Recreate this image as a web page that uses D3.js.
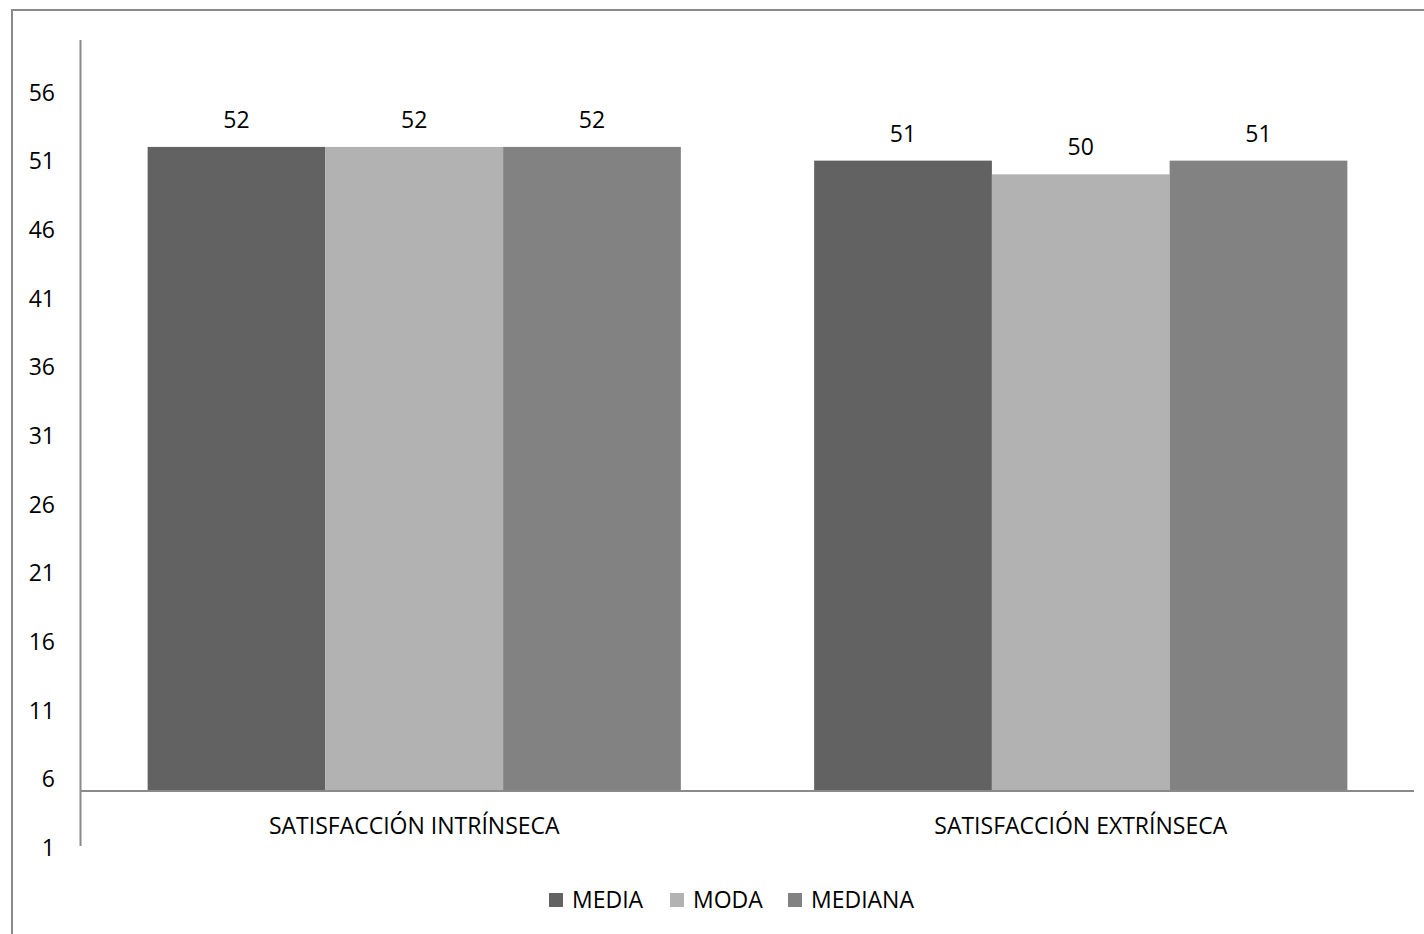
<!DOCTYPE html>
<html>
<head>
<meta charset="utf-8">
<script src="https://cdn.jsdelivr.net/npm/d3@7"></script>
<style>
  html, body { margin: 0; padding: 0; background: #fff; }
  svg { display: block; }
  text { font-family: "Open Sans", sans-serif; fill: #000; }
</style>
</head>
<body>
<svg id="chart" width="1424" height="934"></svg>
<script>
// Categories, series and values
const categories = ["SATISFACCIÓN INTRÍNSECA", "SATISFACCIÓN EXTRÍNSECA"];
const seriesNames = ["MEDIA", "MODA", "MEDIANA"];
const seriesColors = ["#626262", "#b2b2b2", "#828282"];
const media = [52, 51];
const moda = [52, 50];
const mediana = [52, 51];
const yTicks = [1, 6, 11, 16, 21, 26, 31, 36, 41, 46, 51, 56];
const axisCross = 5.08; // value where the category axis crosses the value axis

const seriesValues = [media, moda, mediana];
const FONT = "'Open Sans', sans-serif";
const FS = 23;

const svg = d3.select("#chart");

// Outer chart frame (extends past the visible window on right/bottom)
svg.append("rect")
  .attr("x", 12).attr("y", 10)
  .attr("width", 1430).attr("height", 940)
  .attr("fill", "none")
  .attr("stroke", "#8a8a8a")
  .attr("stroke-width", 2);

const x0 = d3.scaleBand()
  .domain(categories)
  .range([81, 1414])
  .paddingInner(0.2)
  .paddingOuter(0.1);

const x1 = d3.scaleBand()
  .domain(seriesNames)
  .range([0, x0.bandwidth()])
  .padding(0);

const y = d3.scaleLinear()
  .domain([1, 56])
  .range([847, 92]);

const baseY = y(axisCross);

// Bars
const groups = svg.append("g").selectAll("g")
  .data(categories)
  .join("g")
  .attr("transform", d => `translate(${x0(d)},0)`);

groups.selectAll("rect")
  .data((c, i) => seriesNames.map((s, j) => ({ s, j, v: seriesValues[j][i] })))
  .join("rect")
  .attr("x", d => x1(d.s))
  .attr("y", d => y(d.v))
  .attr("width", x1.bandwidth())
  .attr("height", d => baseY - y(d.v))
  .attr("fill", d => seriesColors[d.j]);

// Data labels
groups.selectAll("text.val")
  .data((c, i) => seriesNames.map((s, j) => ({ s, j, v: seriesValues[j][i] })))
  .join("text")
  .attr("class", "val")
  .attr("x", d => x1(d.s) + x1.bandwidth() / 2)
  .attr("y", d => y(d.v) - 19)
  .attr("text-anchor", "middle")
  .attr("font-size", FS)
  .text(d => d.v);

// Value axis (labels only, no tick marks)
const yAxis = d3.axisLeft(y).tickValues(yTicks).tickSize(0).tickPadding(0);
const yg = svg.append("g").attr("transform", "translate(55,0)").call(yAxis);
yg.select(".domain").remove();
yg.selectAll("text")
  .attr("font-size", FS)
  .attr("dy", "0.36em")
  .style("font-family", FONT)
  .attr("fill", "#000");

// Axis lines
svg.append("line")
  .attr("x1", 80.5).attr("x2", 80.5)
  .attr("y1", 40).attr("y2", 846)
  .attr("stroke", "#8a8a8a").attr("stroke-width", 2);

svg.append("line")
  .attr("x1", 80).attr("x2", 1414)
  .attr("y1", baseY).attr("y2", baseY)
  .attr("stroke", "#8a8a8a").attr("stroke-width", 2);

// Category labels
const xAxis = d3.axisBottom(x0).tickSize(0).tickPadding(0);
const xg = svg.append("g").attr("transform", "translate(0,834)").call(xAxis);
xg.select(".domain").remove();
xg.selectAll("text")
  .attr("y", 0).attr("dy", 0)
  .attr("font-size", FS)
  .style("font-family", FONT)
  .attr("fill", "#000");

// Legend
const legendX = [549, 670, 788];
const legend = svg.append("g").selectAll("g")
  .data(seriesNames)
  .join("g")
  .attr("transform", (d, i) => `translate(${legendX[i]},893)`);
legend.append("rect")
  .attr("width", 14).attr("height", 14)
  .attr("fill", (d, i) => seriesColors[i]);
legend.append("text")
  .attr("x", 23).attr("y", 14.5)
  .attr("font-size", FS)
  .text(d => d);
</script>
</body>
</html>
